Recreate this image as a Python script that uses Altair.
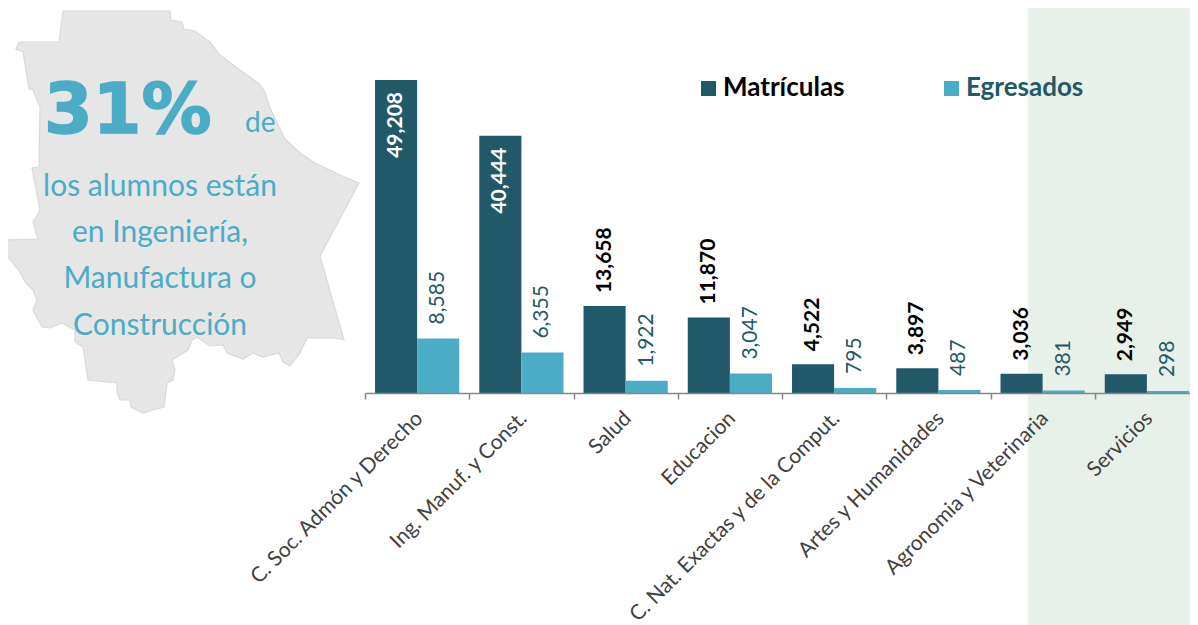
import altair as alt
import pandas as pd

categories = ["C. Soc. Admón y Derecho", "Ing. Manuf. y Const.", "Salud", "Educacion",
              "C. Nat. Exactas y de la Comput.", "Artes y Humanidades",
              "Agronomia y Veterinaria", "Servicios"]
matriculas = [49208, 40444, 13658, 11870, 4522, 3897, 3036, 2949]
egresados = [8585, 6355, 1922, 3047, 795, 487, 381, 298]
series = ["Matrículas", "Egresados"]

map_x = [63, 170, 171, 182, 184, 195, 210, 220, 240, 258, 264, 270, 278, 285, 300, 315, 340, 359,
         320, 344, 335, 307, 300, 290, 283, 279, 263, 253, 243, 227, 223, 210, 197, 192, 188, 172,
         175, 173, 167, 164, 153, 143, 131, 130, 120, 117, 117, 88, 83, 75, 75, 62, 50, 42, 33, 37,
         33, 25, 20, 8, 4, 7, 38, 33, 40, 32, 39, 40, 33, 29, 23, 16, 19, 59, 63]
map_y = [11, 11, 20, 22, 29, 31, 42, 55, 70, 83, 90, 108, 125, 139, 153, 163, 175, 183,
         256, 340, 338, 338, 353, 366, 362, 353, 357, 353, 359, 353, 345, 346, 337, 340, 350, 360,
         370, 380, 383, 407, 410, 413, 407, 400, 400, 392, 383, 380, 347, 342, 330, 323, 328, 327, 310, 300,
         290, 282, 272, 257, 243, 240, 239, 222, 210, 168, 167, 107, 90, 89, 52, 49, 42, 42, 11]

DARK = "#215968"
TEAL = "#4bacc6"
FONT = "Lato"
OX, OY = 8, 8

df = pd.DataFrame({
    "cat": categories * 2,
    "serie": [series[0]] * 8 + [series[1]] * 8,
    "val": matriculas + egresados,
})
map_df = pd.DataFrame({"i": range(len(map_x)), "px": [v - OX for v in map_x], "py": [v - OY for v in map_y]})

x_enc = alt.X("cat:N", sort=categories, title=None,
              scale=alt.Scale(domain=categories, range=[357, 1191], paddingInner=0, paddingOuter=0),
              axis=alt.Axis(labelAngle=315, labelAlign="right", labelBaseline="middle",
                            labelFont=FONT, labelFontSize=21, labelColor="#404040", labelOverlap=False,
                            labelBound=False, labelFlush=False, labelLimit=400, labelPadding=16,
                            labelOffset=2,
                            domainColor="#868686", tickColor="#868686", tickSize=6, tickBand="extent",
                            domainWidth=1.5, tickWidth=1.5, grid=False, zindex=1))
xo = alt.XOffset("serie:N", sort=series,
                 scale=alt.Scale(domain=series, paddingInner=0, paddingOuter=0.238))
y_enc = alt.Y("val:Q", title=None, axis=None, scale=alt.Scale(domain=[0, 60527], nice=False))

bg = alt.Chart(pd.DataFrame({"a": [1]})).mark_rect(color="#e8f1e9").encode(
    x=alt.value(1028 - OX), x2=alt.value(1198), y=alt.value(-OY), y2=alt.value(625))

land = alt.Chart(map_df).mark_line(fill="#e6e6e6", stroke="#d9d9d9", strokeWidth=1.2).encode(
    x=alt.X("px:Q", scale=None, axis=None), y=alt.Y("py:Q", scale=None, axis=None), order="i:Q")

bars = alt.Chart(df).mark_bar().encode(
    x=x_enc, xOffset=xo, y=y_enc,
    color=alt.Color("serie:N", scale=alt.Scale(domain=series, range=[DARK, TEAL]), legend=None))

base = alt.Chart(df)
lab = dict(angle=270, baseline="middle", font=FONT, fontSize=21)
inside = base.transform_filter("datum.serie == 'Matrículas' && datum.val > 20000").mark_text(
    align="right", dx=-12, fontWeight="bold", color="white", **lab).encode(
    x=x_enc, xOffset=xo, y=y_enc, text=alt.Text("val:Q", format=","))
outside = base.transform_filter("datum.serie == 'Matrículas' && datum.val < 20000").mark_text(
    align="left", dx=13, fontWeight="bold", color="black", **lab).encode(
    x=x_enc, xOffset=xo, y=y_enc, text=alt.Text("val:Q", format=","))
egr = base.transform_filter("datum.serie == 'Egresados'").mark_text(
    align="left", dx=14, color=DARK, **lab).encode(
    x=x_enc, xOffset=xo, y=y_enc, text=alt.Text("val:Q", format=","))


def note(txt, px, py, size, color, align="left", **kw):
    return alt.Chart(pd.DataFrame({"t": [txt]})).mark_text(
        align=align, baseline="alphabetic", fontSize=size, color=color,
        font=kw.pop("font", FONT), **kw).encode(
        x=alt.value(px - OX), y=alt.value(py - OY), text="t:N")


def swatch(px, py, color):
    return alt.Chart(pd.DataFrame({"a": [1]})).mark_rect(color=color).encode(
        x=alt.value(px - OX), x2=alt.value(px - OX + 15), y=alt.value(py - OY), y2=alt.value(py - OY + 15))


notes = [
    note("31%", 44, 133, 70, TEAL, font="DejaVu Sans", fontWeight="bold", stroke=TEAL, strokeWidth=1.5),
    note("de", 245, 132, 28, TEAL),
    note("los alumnos están", 160, 196, 30, TEAL, align="center"),
    note("en Ingeniería,", 160, 242, 30, TEAL, align="center"),
    note("Manufactura o", 160, 288, 30, TEAL, align="center"),
    note("Construcción", 160, 335, 30, TEAL, align="center"),
    swatch(701, 81, DARK),
    note(series[0], 723, 96, 26, "black", fontWeight="bold"),
    swatch(944, 81, TEAL),
    note(series[1], 966, 96, 26, DARK, fontWeight="bold"),
]

chart = alt.layer(bg, land, bars, inside, outside, egr, *notes).properties(
    width=1182, height=385,
    padding={"left": 0, "top": 0, "right": 0, "bottom": 232},
    autosize=alt.AutoSizeParams(type="none"),
).configure_view(stroke=None)

chart.save("out.html", embed_options={"renderer": "svg", "actions": False})
